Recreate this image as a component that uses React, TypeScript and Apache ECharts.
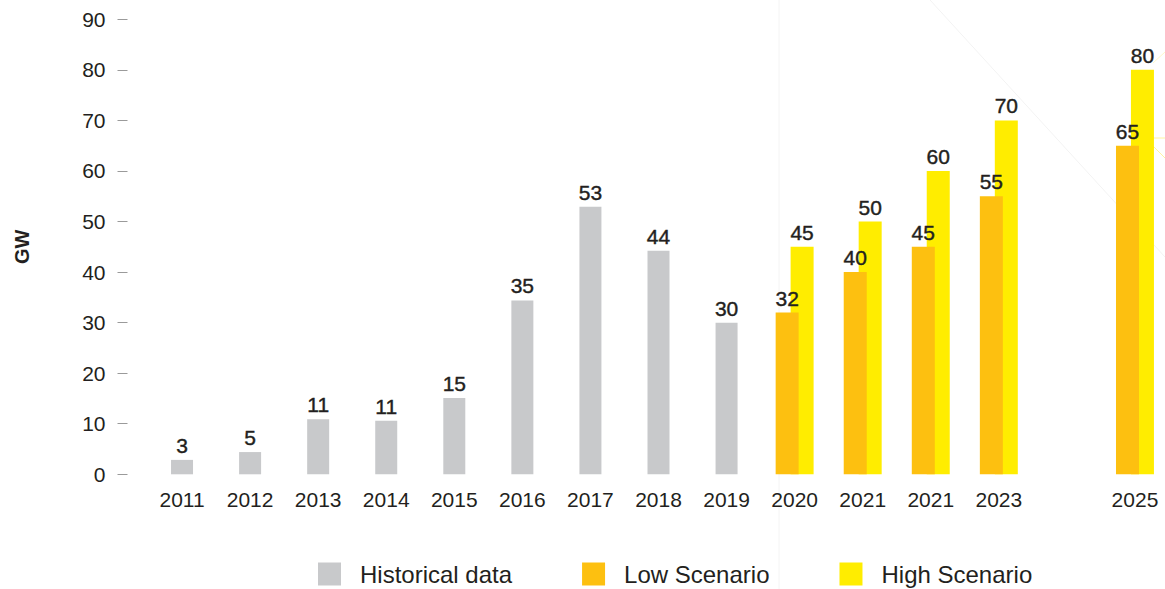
import React, { useEffect, useRef } from "react";
import * as echarts from "echarts";

const categories = [
  "2011", "2012", "2013", "2014", "2015", "2016", "2017", "2018", "2019",
  "2020", "2021", "2021", "2023", "", "2025",
];
const historical = [2.85, 4.4, 10.9, 10.6, 15.1, 34.4, 52.9, 44.2, 30, null, null, null, null, null, null];
const historicalLabels = [3, 5, 11, 11, 15, 35, 53, 44, 30];
const lowScenario = [null, null, null, null, null, null, null, null, null, 32, 40, 45, 55, null, 65];
const highScenario = [null, null, null, null, null, null, null, null, null, 45, 50, 60, 70, null, 80];
const yTicks = { min: 0, max: 90, interval: 10 };

const FONT = "'Liberation Sans', Arial, Helvetica, sans-serif";
const TEXT = "#231f20";

export default function App() {
  const ref = useRef<HTMLDivElement>(null);
  useEffect(() => {
    if (!ref.current) return;
    const chart = echarts.init(ref.current, null, { renderer: "svg" });
    const labelStyle = {
      show: true,
      position: "top",
      distance: 4,
      fontSize: 21,
      color: TEXT,
      fontFamily: FONT,
      textBorderColor: TEXT,
      textBorderWidth: 0.4,
    };
    chart.setOption({
      animation: false,
      backgroundColor: "#ffffff",
      textStyle: { fontFamily: FONT },
      graphic: [
        { type: "line", silent: true, z: -10, shape: { x1: 779, y1: 0, x2: 779, y2: 589 }, style: { stroke: "#f4f4f4", lineWidth: 1 } },
        { type: "line", silent: true, z: -10, shape: { x1: 930, y1: 0, x2: 1165, y2: 257 }, style: { stroke: "#f3f3f3", lineWidth: 1 } },
        { type: "line", silent: true, z: -10, shape: { x1: 1153, y1: 138, x2: 1165, y2: 138 }, style: { stroke: "#fff4a0", lineWidth: 1 } },
        { type: "line", silent: true, z: -10, shape: { x1: 1153, y1: 146, x2: 1165, y2: 158 }, style: { stroke: "#fff4a0", lineWidth: 1 } },
        { type: "line", silent: true, z: -10, shape: { x1: 1153, y1: 63, x2: 1165, y2: 52 }, style: { stroke: "#fff8c8", lineWidth: 1 } },
      ],
      legend: {
        left: 318,
        top: 562,
        padding: 0,
        itemWidth: 23,
        itemHeight: 23,
        itemGap: 70,
        icon: "rect",
        data: ["Historical data", "Low Scenario", "High Scenario"],
        textStyle: { fontSize: 24, color: TEXT, fontFamily: FONT, padding: [0, 0, 0, 14] },
      },
      grid: { left: 148, top: 19.3, width: 1021, height: 455 },
      xAxis: [
        {
          type: "category",
          data: categories,
          axisLine: { show: false },
          axisTick: { show: false },
          axisLabel: { interval: 0, margin: 15, fontSize: 21, color: TEXT, fontFamily: FONT },
        },
        {
          type: "category",
          data: categories,
          show: false,
        },
      ],
      yAxis: {
        type: "value",
        min: yTicks.min,
        max: yTicks.max,
        interval: yTicks.interval,
        offset: 20.5,
        name: "GW",
        nameLocation: "middle",
        nameGap: 96,
        nameRotate: 90,
        nameTextStyle: { fontSize: 20, fontWeight: "bold", color: TEXT, fontFamily: FONT },
        axisLine: { show: false },
        axisTick: { show: true, length: 10, lineStyle: { color: "#9a9a9a", width: 1 } },
        axisLabel: { margin: 22, fontSize: 21, color: TEXT, fontFamily: FONT },
        splitLine: { show: false },
      },
      series: [
        {
          name: "Historical data",
          type: "bar",
          xAxisIndex: 0,
          data: historical,
          barWidth: 22,
          itemStyle: { color: "#c8c9cb" },
          label: { ...labelStyle, formatter: (p: any) => String(historicalLabels[p.dataIndex]) },
        },
        {
          name: "Low Scenario",
          type: "bar",
          xAxisIndex: 1,
          data: lowScenario,
          barWidth: 23,
          barGap: "-35%",
          z: 3,
          itemStyle: { color: "#fdc010" },
          label: labelStyle,
        },
        {
          name: "High Scenario",
          type: "bar",
          xAxisIndex: 1,
          data: highScenario,
          barWidth: 23,
          barGap: "-35%",
          z: 2,
          itemStyle: { color: "#ffed00" },
          label: labelStyle,
        },
      ],
    });
    return () => chart.dispose();
  }, []);
  return (
    <div
      style={{
        position: "absolute",
        left: 0,
        top: 0,
        width: 1165,
        height: 589,
        overflow: "hidden",
        background: "#ffffff",
      }}
    >
      <div ref={ref} style={{ width: 1185, height: 589 }} />
    </div>
  );
}
